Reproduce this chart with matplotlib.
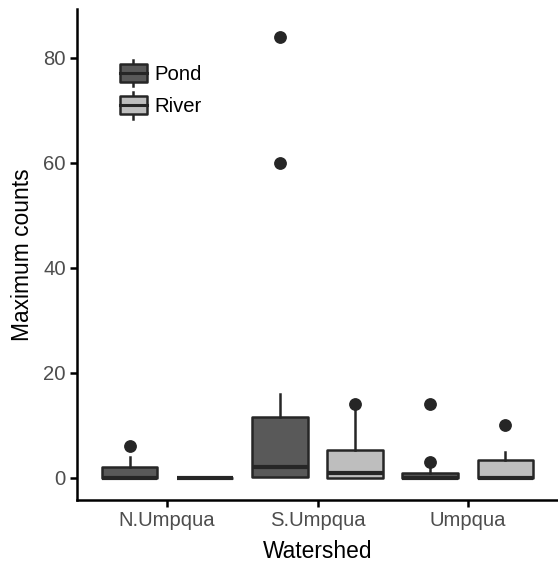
import matplotlib
matplotlib.use("Agg")
import matplotlib.pyplot as plt
import numpy as np
from matplotlib.legend_handler import HandlerBase
from matplotlib.patches import Rectangle
from matplotlib.lines import Line2D

plt.rcParams['font.family'] = ['Liberation Sans', 'DejaVu Sans']

watersheds = ['N.Umpqua', 'S.Umpqua', 'Umpqua']
habitats = ['Pond', 'River']

# box stats
pond_q1 = [0, 0.25, 0]
pond_med = [0, 2, 0]
pond_q3 = [2, 11.6, 1]
pond_whislo = [0, 0.25, 0]
pond_whishi = [4, 16, 2]
pond_fliers = [[6], [60, 84], [3, 14]]

river_q1 = [0, 0, 0]
river_med = [0, 0.9, 0]
river_q3 = [0, 5.4, 3.4]
river_whislo = [0, 0, 0]
river_whishi = [0, 13.5, 5]
river_fliers = [[], [14], [10]]

yticks = [0, 20, 40, 60, 80]

fills = {'Pond': '#595959', 'River': '#bebebe'}
edge = '#262626'


def make_stats(q1, med, q3, lo, hi, fl):
    out = []
    for i in range(len(q1)):
        out.append(dict(q1=q1[i], med=med[i], q3=q3[i], whislo=lo[i],
                        whishi=hi[i], fliers=fl[i]))
    return out


class BoxKey(HandlerBase):
    def create_artists(self, legend, orig_handle, xdescent, ydescent,
                       width, height, fontsize, trans):
        col = orig_handle.get_facecolor()
        cx = width / 2 - xdescent
        h = height * 1.0
        y0 = (height - h) / 2 - ydescent
        box = Rectangle((-xdescent, y0), width, h, facecolor=col,
                        edgecolor=edge, lw=1.8, joinstyle='round',
                        transform=trans)
        med = Line2D([-xdescent, width - xdescent], [y0 + h / 2] * 2,
                     color=edge, lw=2.2, transform=trans)
        w1 = Line2D([cx, cx], [y0 + h, y0 + h + 3], color=edge, lw=1.8,
                    transform=trans)
        w2 = Line2D([cx, cx], [y0 - 3, y0], color=edge, lw=1.8,
                    transform=trans)
        return [w1, w2, box, med]


fig = plt.figure(figsize=(5.58, 5.67), dpi=100)
ax = fig.add_axes([77 / 558, 67 / 567, 481 / 558, 491 / 567])

x = np.arange(1, len(watersheds) + 1)
stats_all = {
    'Pond': make_stats(pond_q1, pond_med, pond_q3, pond_whislo, pond_whishi, pond_fliers),
    'River': make_stats(river_q1, river_med, river_q3, river_whislo, river_whishi, river_fliers),
}
offsets = {'Pond': -0.25, 'River': 0.25}

handles = []
for hab in habitats:
    bp = ax.bxp(stats_all[hab], positions=x + offsets[hab], widths=0.37,
                patch_artist=True, showcaps=False,
                boxprops=dict(facecolor=fills[hab], edgecolor=edge, lw=1.8,
                              joinstyle='round'),
                medianprops=dict(color=edge, lw=3.0, solid_capstyle='butt'),
                whiskerprops=dict(color=edge, lw=1.8),
                flierprops=dict(marker='o', markersize=8.2, markerfacecolor=edge,
                                markeredgecolor=edge))
    handles.append(Rectangle((0, 0), 1, 1, facecolor=fills[hab], edgecolor=edge))

ax.set_xlim(0.4, 3.6)
ax.set_ylim(-4.2, 89.3)
ax.set_xticks(x)
ax.set_xticklabels(watersheds)
ax.set_yticks(yticks)

for s in ['top', 'right']:
    ax.spines[s].set_visible(False)
for s in ['left', 'bottom']:
    ax.spines[s].set_linewidth(1.8)
    ax.spines[s].set_color('black')
ax.tick_params(axis='both', length=5, width=1.8, labelsize=14.6,
               labelcolor='#4d4d4d', pad=3)

ax.set_xlabel('Watershed', fontsize=16.4, labelpad=7)
ax.set_ylabel('Maximum counts', fontsize=16.4, labelpad=7)

ax.legend(handles, habitats, handler_map={Rectangle: BoxKey()},
          loc='upper left', bbox_to_anchor=(0.073, 0.905), frameon=False,
          fontsize=14.6, handlelength=1.3, handleheight=1.0,
          handletextpad=0.4, labelspacing=0.62, borderaxespad=0)

fig.savefig('out.png', dpi=100)
